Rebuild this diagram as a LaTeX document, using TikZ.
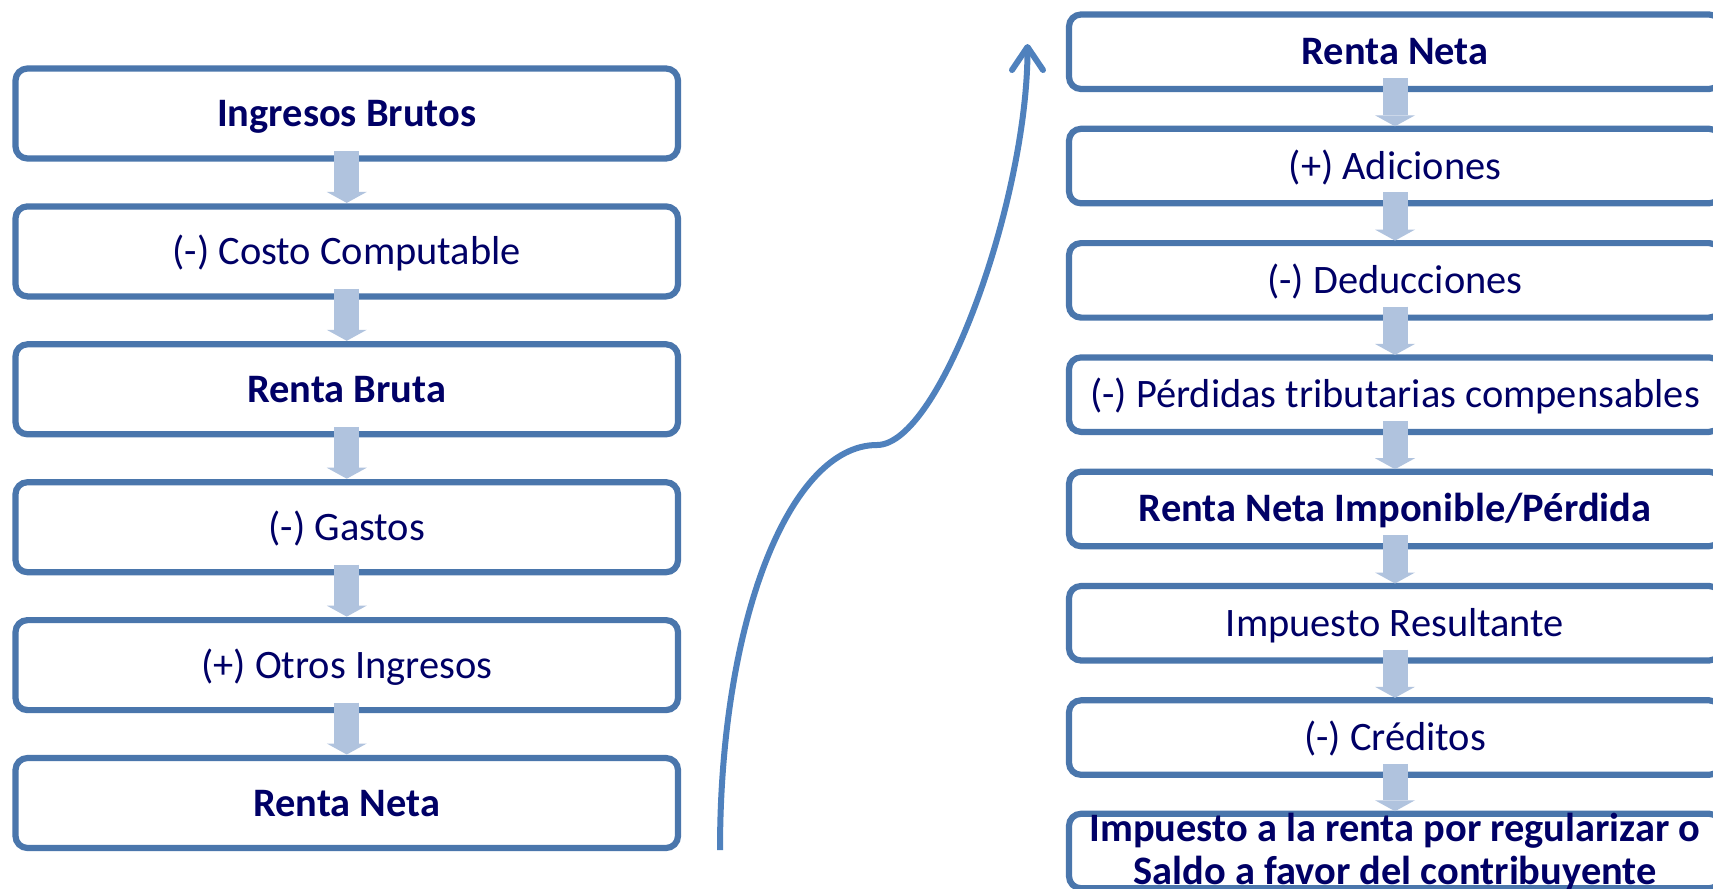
\documentclass[tikz,border=0pt]{standalone}
\usepackage{fontspec}
\setmainfont{Carlito}
\usetikzlibrary{arrows.meta,calc}
\definecolor{boxcol}{RGB}{74,118,172}
\definecolor{textcol}{RGB}{0,0,102}
\definecolor{arrcol}{RGB}{176,195,222}
\definecolor{curvecol}{RGB}{79,129,189}
\begin{document}
\begin{tikzpicture}[x=0.1mm,y=-0.1mm,
  box/.style={draw=boxcol,line width=0.62mm,rounded corners=1.2mm,fill=white,outer sep=0pt,inner sep=0pt,text=textcol,font=\fontsize{11.5}{12.1}\selectfont,text height=7.4pt,text depth=0pt},
  lbox/.style={box,minimum width=66.25mm,minimum height=9mm},
  rbox/.style={box,minimum width=65.2mm,minimum height=7.45mm},
  lbl/.style={text=textcol,font=\fontsize{11.5}{12.1}\selectfont\bfseries,align=center,inner sep=0pt},
  barrow/.style={draw=arrcol,line width=2.5mm,-{Triangle[width=4mm,length=1.1mm,line width=0pt]}},
  curve/.style={draw=curvecol,line width=0.6mm,-{Straight Barb[length=2.3mm,width=3.1mm,round]}}]
\fill[white] (0,0) rectangle (1713,888);
\useasboundingbox (0,0) rectangle (1713,888);
% left column
\node[lbox] (l1) at (346.75,113.5) {\textbf{Ingresos Brutos}};
\node[lbox] (l2) at (346.75,251.4) {(-) Costo Computable};
\node[lbox] (l3) at (346.75,389.3) {\textbf{Renta Bruta}};
\node[lbox] (l4) at (346.75,527.2) {(-) Gastos};
\node[lbox] (l5) at (346.75,665.1) {(+) Otros Ingresos};
\node[lbox] (l6) at (346.75,803) {\textbf{Renta Neta}};
\foreach \a/\b in {l1/l2,l2/l3,l3/l4,l4/l5,l5/l6}
  \draw[barrow] ([yshift=0.75mm]\a.south) -- ([yshift=0.35mm]\b.north);
% right column
\node[rbox] (r1) at (1395,51.75) {\textbf{Renta Neta}};
\node[rbox] (r2) at (1395,166.05) {(+) Adiciones};
\node[rbox] (r3) at (1395,280.35) {(-) Deducciones};
\node[rbox] (r4) at (1395,394.65) {(-) Pérdidas tributarias compensables};
\node[rbox] (r5) at (1395,508.95) {\textbf{Renta Neta Imponible/Pérdida}};
\node[rbox] (r6) at (1395,623.25) {Impuesto Resultante};
\node[rbox] (r7) at (1395,737.55) {(-) Créditos};
\node[rbox] (r8) at (1395,851) {};
\foreach \a/\b in {r1/r2,r2/r3,r3/r4,r4/r5,r5/r6,r6/r7,r7/r8}
  \draw[barrow] ([yshift=1.1mm]\a.south) -- ([yshift=0.25mm]\b.north);
\node[lbl] (r8t) at (1395,852) {Impuesto a la renta por regularizar o\\Saldo a favor del contribuyente};
% curved arrow
\coordinate (cs) at (720,850);
\coordinate (cm) at (877,445);
\coordinate (ce) at (1027.5,44);
\draw[curve] (cs) .. controls (720,620) and (790,445) .. (cm) .. controls (940,445) and (1027.5,200) .. (ce);
\end{tikzpicture}
\end{document}
